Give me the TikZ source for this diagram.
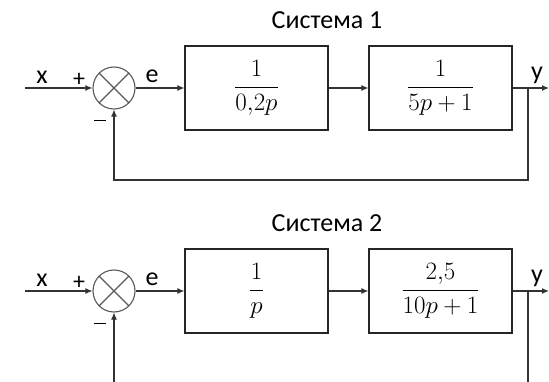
\RequirePackage{fix-cm}
\documentclass[tikz,border=0pt]{standalone}
\usepackage{fontspec}
\setmainfont{Carlito}
\usetikzlibrary{arrows.meta}
\begin{document}
\begin{tikzpicture}[x=1pt,y=-1pt,
  line width=1.1pt,
  conn/.style={draw=black!80,line width=1.1pt},
  arr/.style={conn,-{Latex[length=7pt,width=6pt]}},
  blk/.style={draw=black!85,line width=1.2pt,minimum width=143pt,minimum height=84pt,inner sep=0pt},
  sumnode/.style={circle,draw=black!65,line width=1.1pt,minimum size=42pt,inner sep=0pt},
  lbl/.style={font=\fontsize{26}{30}\selectfont,inner sep=0pt},
  sgn/.style={font=\fontsize{24}{26}\selectfont,inner sep=0pt},
  tf/.style={font=\fontsize{25}{30}\selectfont}]
\useasboundingbox (0,0) rectangle (549,382);
\foreach \s/\yo in {1/0,2/203}{
  \begin{scope}[yshift=-\yo pt]
  \node[lbl] (title\s) at (327,20) {Система \s};
  \coordinate (in\s) at (25,88);
  \node[sumnode] (sum\s) at (114,88) {};
  \draw[black!65,line width=1.1pt] (sum\s.north west) -- (sum\s.south east) (sum\s.north east) -- (sum\s.south west);
  \coordinate (tap\s) at (528,88);
  \coordinate (out\s) at (549,88);
  \node[lbl] (xl\s) at (42,77) {x};
  \node[sgn] (pl\s) at (79,80) {+};
  \node[sgn] (mi\s) at (100,122) {\rule[0.25ex]{0.5em}{1.4pt}};
  \node[lbl] (el\s) at (152,76) {e};
  \node[lbl] (yl\s) at (537,75) {y};
  \end{scope}
}
% System 1 blocks
\node[blk,tf] (b11) at (256.5,88) {$\displaystyle\frac{1}{0{,}2p}$};
\node[blk,tf] (b12) at (440.5,88) {$\displaystyle\frac{1}{5p+1}$};
% System 2 blocks
\node[blk,tf] (b21) at (256.5,291) {$\displaystyle\frac{1}{p}$};
\node[blk,tf] (b22) at (440.5,291) {$\displaystyle\frac{2{,}5}{10p+1}$};
% connectors system 1
\draw[arr] (in1) -- (sum1.west);
\draw[arr] (sum1.east) -- (b11.west);
\draw[arr] (b11.east) -- (b12.west);
\draw[arr] (b12.east) -- (out1);
\coordinate (fb1a) at (528,180);
\coordinate (fb1b) at (114,180);
\draw[arr] (tap1) -- (fb1a) -- (fb1b) -- (sum1.south);
% connectors system 2
\draw[arr] (in2) -- (sum2.west);
\draw[arr] (sum2.east) -- (b21.west);
\draw[arr] (b21.east) -- (b22.west);
\draw[arr] (b22.east) -- (out2);
\coordinate (fb2a) at (528,382);
\coordinate (fb2b) at (114,382);
\draw[conn] (tap2) -- (fb2a);
\draw[arr] (fb2b) -- (sum2.south);
\end{tikzpicture}
\end{document}
